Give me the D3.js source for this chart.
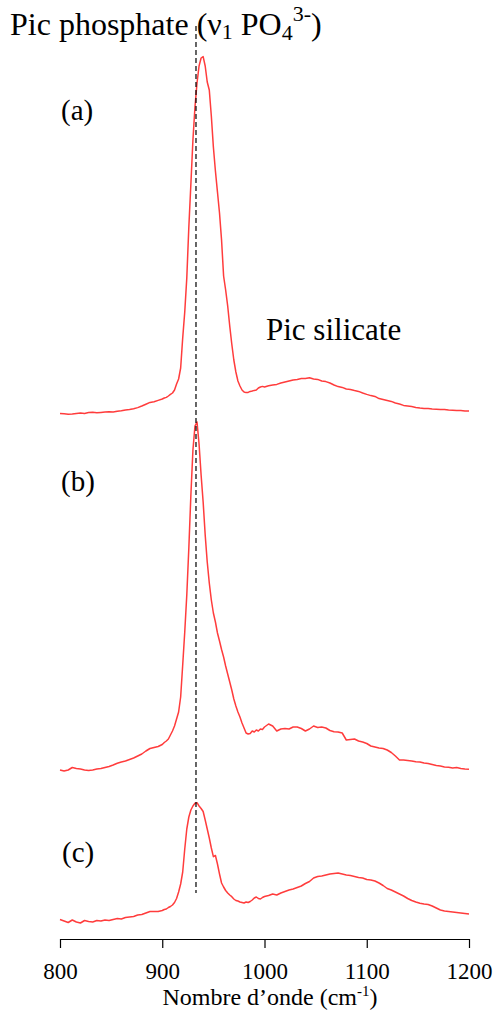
<!DOCTYPE html>
<html>
<head>
<meta charset="utf-8">
<script src="https://cdn.jsdelivr.net/npm/d3@7/dist/d3.min.js"></script>
<style>
  html, body { margin: 0; padding: 0; background: #fff; }
  svg { display: block; }
  svg text { font-family: 'Liberation Serif', 'DejaVu Serif', serif !important; fill: #000; }
</style>
</head>
<body>
<svg id="chart" width="497" height="1012"></svg>
<script>
// Raman spectra, wavenumber axis in cm-1 (finer sampling across the phosphate band)
const wavenumbers = [].concat(
  d3.range(800, 900, 4),
  d3.range(900, 1000, 2),
  d3.range(1000, 1201, 4)
);

// Intensities (arbitrary units), one value per wavenumber
const spectrumA = [
  -0.3,-0.4,-0.6,-0.5,-0.2,0.0,-0.3,0.2,0.4,0.1,0.3,0.5,0.6,0.5,0.9,1.1,1.5,1.7,2.1,2.7,3.5,4.4,5.3,5.6,6.3,
  7.0,7.5,7.8,8.5,9.3,10.0,11.5,14.5,17.0,22.5,37.5,50.5,67.5,93.0,114.5,136.5,153.0,165.0,173.5,177.5,
  178.2,173.5,165.5,161.5,148.5,133.0,121.0,110.5,100.0,86.5,68.5,61.5,53.5,43.5,34.5,26.5,20.5,16.0,13.5,11.5,
  10.5,10.2,10.3,10.8,11.0,11.3,11.5,12.5,13.0,13.3,
  13.0,13.6,14.0,14.3,15.0,15.5,16.0,16.5,16.8,17.3,17.2,17.6,17.0,16.8,16.0,15.7,15.0,14.0,13.2,12.8,12.0,
  11.7,11.2,10.8,10.0,9.3,8.7,8.3,7.2,6.8,6.3,5.8,5.0,4.5,3.8,3.5,3.2,2.8,2.5,2.3,2.2,2.0,1.9,1.7,1.8,1.5,
  1.4,1.2,1.3,1.0,1.0
];
const spectrumB = [
  -0.5,-1.0,-0.5,0.75,0.25,0.0,-0.5,-0.75,-0.5,0.0,0.25,0.75,1.25,2.0,2.85,3.5,4.0,4.75,5.5,6.5,7.5,9.0,10.25,10.75,11.25,
  12.25,13.25,14.0,15.0,17.0,19.0,21.5,25.0,28.5,36.0,52.0,68.5,87.0,110.5,137.0,159.5,171.5,173.5,162.5,147.0,
  133.5,117.0,103.5,93.0,84.5,78.0,73.5,68.0,64.0,59.75,56.0,51.5,47.5,43.5,39.5,35.0,31.5,28.5,26.0,23.0,
  20.5,18.0,17.5,17.75,19.0,18.5,19.5,19.0,20.0,19.75,
  21.0,22.5,21.5,19.0,20.0,20.25,20.0,21.0,21.0,20.25,19.0,20.0,21.5,20.75,21.0,20.5,19.25,18.65,18.5,18.0,14.5,
  14.75,15.0,14.0,13.5,12.75,11.5,11.0,10.5,10.25,9.5,8.25,6.5,4.5,4.5,4.25,4.0,3.65,3.5,3.0,2.75,2.25,1.75,1.5,1.0,0.85,
  0.5,0.75,0.25,0.0,-0.15
];
const spectrumC = [
  1.25,0.5,-0.25,1.0,0.0,-0.5,0.75,0.25,0.0,0.75,0.5,1.0,0.75,1.25,1.75,1.5,2.25,2.5,2.75,3.5,3.75,4.5,5.25,5.25,5.25,
  5.75,6.25,6.5,7.25,7.75,8.5,9.75,11.75,15.0,19.0,25.0,36.5,46.5,52.5,56.0,58.0,59.35,59.65,58.0,56.75,
  55.25,51.0,46.5,42.0,37.0,32.65,33.25,29.0,24.0,19.5,17.5,15.75,14.5,13.5,12.65,11.5,10.75,10.5,10.0,9.75,
  9.5,10.0,9.75,10.25,11.0,12.0,12.5,11.75,11.5,12.25,
  12.75,13.25,14.0,13.5,14.5,15.25,16.0,16.5,17.25,18.0,19.25,20.25,22.0,22.75,23.0,23.5,24.0,24.25,24.5,24.0,23.5,
  23.25,22.75,22.25,22.0,21.25,21.0,20.5,19.5,18.25,16.75,16.0,15.0,14.0,13.0,11.75,10.75,10.0,9.35,9.0,8.75,8.0,7.0,6.0,5.5,5.25,
  5.0,4.75,4.5,4.25,4.0
];

const spectra = [
  { label: "(a)", values: spectrumA, offset: 263.5 },
  { label: "(b)", values: spectrumB, offset: 85.5 },
  { label: "(c)", values: spectrumC, offset: 9 }
];

const xTicks = [800, 900, 1000, 1100, 1200];
const phosphateBand = 933;          // ν1 PO4 3- position, cm-1
const bandLineSpan = [23.5, 457];   // vertical extent of the marker, intensity units

const FONT = "'Liberation Serif', 'DejaVu Serif', serif";

const svg = d3.select("#chart");

const x = d3.scaleLinear().domain([800, 1200]).range([60, 469]);
const y = d3.scaleLinear().domain([0, 470]).range([940, 0]);

// x axis
const axis = svg.append("g")
  .attr("transform", `translate(0,${y(0.5)})`)
  .call(d3.axisBottom(x).tickValues(xTicks).tickFormat(d3.format("d"))
    .tickSize(9).tickSizeOuter(0).tickPadding(15));
axis.attr("font-family", FONT);
axis.select(".domain").attr("stroke", "#000").attr("stroke-width", 1.2);
axis.selectAll(".tick line").attr("stroke", "#000").attr("stroke-width", 1.2);
axis.selectAll(".tick text")
  .style("font-family", FONT)
  .attr("font-size", 23)
  .attr("fill", "#000");

const xTitle = svg.append("text")
  .style("font-family", FONT)
  .attr("x", 270)
  .attr("y", 1005)
  .attr("text-anchor", "middle")
  .attr("font-size", 24);
xTitle.append("tspan").text("Nombre d\u2019onde (cm");
xTitle.append("tspan").attr("font-size", 15).attr("dy", -9).text("-1");
xTitle.append("tspan").attr("dy", 9).text(")");

// spectra
const line = d3.line()
  .x((d, i) => x(wavenumbers[i]))
  .y(d => d);

spectra.forEach(s => {
  const pts = s.values.map(v => y(v + s.offset));
  svg.append("path")
    .datum(pts)
    .attr("fill", "none")
    .attr("stroke", "#ff3c3c")
    .attr("stroke-width", 1.5)
    .attr("stroke-linejoin", "round")
    .attr("d", line);
});

// phosphate band marker
svg.append("line")
  .attr("x1", x(phosphateBand)).attr("x2", x(phosphateBand))
  .attr("y1", y(bandLineSpan[1])).attr("y2", y(bandLineSpan[0]))
  .attr("stroke", "#000")
  .attr("stroke-width", 1.2)
  .attr("stroke-dasharray", "5,3");

// panel labels
const labelPos = [[61, 120], [61, 491], [62, 862]];
spectra.forEach((s, i) => {
  svg.append("text")
    .style("font-family", FONT)
    .attr("x", labelPos[i][0])
    .attr("y", labelPos[i][1])
    .attr("font-size", 29)
    .text(s.label);
});

// annotations
const title = svg.append("text").style("font-family", FONT)
  .attr("x", 10).attr("y", 35).attr("font-size", 32);
title.append("tspan").text("Pic phosphate (\u03BD");
title.append("tspan").attr("font-size", 22).attr("dy", 4).text("1");
title.append("tspan").attr("dy", -4).text(" PO");
title.append("tspan").attr("font-size", 22).attr("dy", 5).text("4");
title.append("tspan").attr("font-size", 22).attr("dy", -19).text("3-");
title.append("tspan").attr("dy", 14).text(")");

svg.append("text")
  .style("font-family", FONT)
  .attr("x", 266)
  .attr("y", 340)
  .attr("font-size", 31)
  .text("Pic silicate");
</script>
</body>
</html>
